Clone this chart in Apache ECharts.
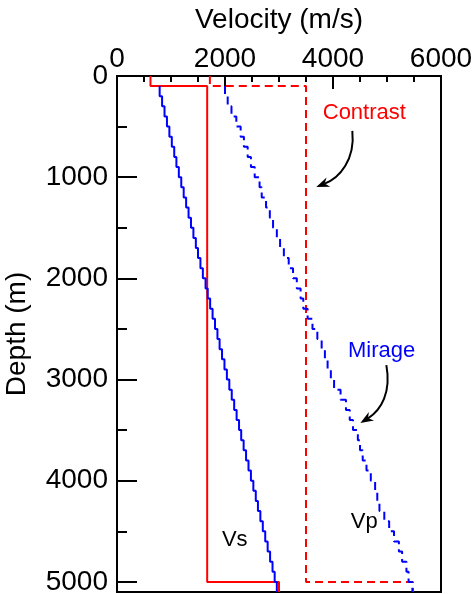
<!DOCTYPE html>
<html>
<head>
<meta charset="utf-8">
<script src="https://cdn.jsdelivr.net/npm/echarts@6/dist/echarts.min.js"></script>
<style>
  html, body { margin: 0; padding: 0; background: #fff; }
  #chart { width: 476px; height: 594px; }
</style>
</head>
<body>
<div id="chart"></div>
<script>
  // layer models: depth of each layer top (m) and velocity in that layer (m/s)
  const contrastTops = [0, 100, 5000]
  const contrastVs = [620, 1670, 3000]
  const contrastVp = [1720, 3500, 5480]
  const modelBottom = 5100

  const mirageTops = [100, 200, 300, 400, 500, 600, 700, 800, 900, 1000,
    1100, 1200, 1300, 1400, 1500, 1600, 1700, 1800, 1900, 2000,
    2100, 2200, 2300, 2400, 2500, 2600, 2700, 2800, 2900, 3000,
    3100, 3200, 3300, 3400, 3500, 3600, 3700, 3800, 3900, 4000,
    4100, 4200, 4300, 4400, 4500, 4600, 4700, 4800, 4900, 5000]
  const mirageVs = [790, 835, 880, 925, 970, 1015, 1060, 1100, 1145, 1190,
    1235, 1280, 1325, 1370, 1415, 1460, 1500, 1545, 1590, 1640,
    1680, 1725, 1770, 1815, 1860, 1900, 1945, 1990, 2035, 2080,
    2125, 2170, 2215, 2260, 2300, 2345, 2390, 2435, 2480, 2525,
    2570, 2610, 2655, 2700, 2745, 2790, 2835, 2880, 2920, 2960]
  const mirageVp = [2000, 2050, 2120, 2210, 2290, 2350, 2420, 2480, 2550, 2640,
    2680, 2760, 2830, 2890, 2960, 3020, 3090, 3180, 3260, 3330,
    3400, 3450, 3530, 3620, 3710, 3790, 3850, 3900, 3960, 4020,
    4140, 4240, 4310, 4370, 4460, 4500, 4550, 4620, 4700, 4780,
    4820, 4860, 4950, 5040, 5130, 5220, 5280, 5360, 5400, 5470]

  // annotations (velocity, depth)
  const noteText = ['Contrast', 'Mirage', 'Vs', 'Vp']
  const noteVel = [4580, 4900, 2180, 4580]
  const noteDepth = [365, 2715, 4590, 4405]
  // curved arrows: start, control 1, control 2, tip
  const arrowContrast = [4358, 542, 4414, 829, 4118, 1007, 3690, 1096]
  const arrowMirage = [4988, 2857, 5081, 3124, 4896, 3302, 4507, 3430]

  const RED = '#ff0000'
  const BLUE = '#0000ff'
  const FONT = '"Liberation Sans", Arial, Helvetica, sans-serif'

  function profile(tops, vels, bottom) {
    const pts = []
    for (let i = 0; i < tops.length; i++) {
      const next = i + 1 < tops.length ? tops[i + 1] : bottom
      pts.push([vels[i], tops[i]], [vels[i], next])
    }
    return pts
  }

  function lineSeries(name, data, color, type) {
    return {
      name: name,
      type: 'line',
      data: data,
      showSymbol: false,
      silent: true,
      lineStyle: { color: color, width: 2, type: type === 'dashed' ? [8, 5] : 'solid' }
    }
  }

  const chart = echarts.init(document.getElementById('chart'))
  chart.setOption({
    animation: false,
    textStyle: { fontFamily: FONT },
    grid: {
      show: true,
      left: 117, top: 76, width: 324, height: 516,
      outerBoundsMode: 'none',
      containLabel: false,
      borderColor: '#000', borderWidth: 2,
      backgroundColor: 'transparent'
    },
    xAxis: {
      type: 'value',
      position: 'top',
      min: 0, max: 6000, interval: 2000,
      name: 'Velocity (m/s)',
      nameLocation: 'middle',
      nameGap: 42,
      nameTextStyle: { fontSize: 28, color: '#000', fontFamily: FONT },
      axisLine: { show: false },
      axisTick: { inside: true, length: 13, lineStyle: { color: '#000', width: 2 } },
      minorTick: { show: true, splitNumber: 4, length: 6, lineStyle: { color: '#000', width: 2 } },
      axisLabel: { fontSize: 28, color: '#000', margin: 3, fontFamily: FONT, formatter: v => String(v) },
      splitLine: { show: false }
    },
    yAxis: [{
      type: 'value',
      position: 'left',
      inverse: true,
      min: 0, max: modelBottom, interval: 1000,
      name: 'Depth (m)',
      nameLocation: 'middle',
      nameGap: 86,
      nameTextStyle: { fontSize: 28, color: '#000', fontFamily: FONT },
      axisLine: { show: false },
      axisTick: { inside: true, length: 20, lineStyle: { color: '#000', width: 2 } },
      axisLabel: { fontSize: 28, color: '#000', margin: 9, showMaxLabel: false, fontFamily: FONT,
        formatter: v => (v % 1000 === 0 ? String(v) : '') },
      splitLine: { show: false }
    }, {
      // half-kilometre ticks only
      type: 'value',
      position: 'left',
      offset: 0,
      inverse: true,
      min: 0, max: modelBottom, interval: 500,
      axisLine: { show: false },
      axisTick: { inside: true, length: 10, lineStyle: { color: '#000', width: 2 } },
      axisLabel: { show: false },
      splitLine: { show: false }
    }],
    series: [
      lineSeries('Contrast Vp', profile(contrastTops, contrastVp, modelBottom), RED, 'dashed'),
      lineSeries('Mirage Vp', profile(mirageTops, mirageVp, modelBottom), BLUE, 'dashed'),
      lineSeries('Contrast Vs', profile(contrastTops, contrastVs, modelBottom), RED, 'solid'),
      lineSeries('Mirage Vs', profile(mirageTops, mirageVs, modelBottom), BLUE, 'solid'),
      {
        type: 'scatter',
        symbolSize: 0,
        silent: true,
        itemStyle: { opacity: 1 },
        data: noteText.map((t, i) => ({
          value: [noteVel[i], noteDepth[i]],
          label: { formatter: t, color: [RED, BLUE, '#000', '#000'][i] }
        })),
        label: { show: true, position: 'inside', fontSize: 22, fontFamily: FONT,
          opacity: 1, textBorderWidth: 0, textBorderColor: 'transparent' }
      },
      {
        type: 'custom',
        silent: true,
        clip: false,
        data: [arrowContrast, arrowMirage],
        renderItem(params, api) {
          const p = [0, 1, 2, 3].map(i => api.coord([api.value(2 * i), api.value(2 * i + 1)]))
          const dx = p[3][0] - p[2][0], dy = p[3][1] - p[2][1]
          const len = Math.hypot(dx, dy)
          const ux = dx / len, uy = dy / len
          const tip = p[3]
          const back = [tip[0] - ux * 13, tip[1] - uy * 13]
          const notch = [tip[0] - ux * 9, tip[1] - uy * 9]
          const left = [back[0] - uy * 5, back[1] + ux * 5]
          const right = [back[0] + uy * 5, back[1] - ux * 5]
          return {
            type: 'group',
            children: [{
              type: 'bezierCurve',
              shape: { x1: p[0][0], y1: p[0][1], cpx1: p[1][0], cpy1: p[1][1],
                cpx2: p[2][0], cpy2: p[2][1], x2: notch[0], y2: notch[1] },
              style: { stroke: '#000', lineWidth: 2, fill: null }
            }, {
              type: 'polygon',
              shape: { points: [tip, left, notch, right] },
              style: { fill: '#000' }
            }]
          }
        }
      }
    ]
  })
</script>
</body>
</html>
